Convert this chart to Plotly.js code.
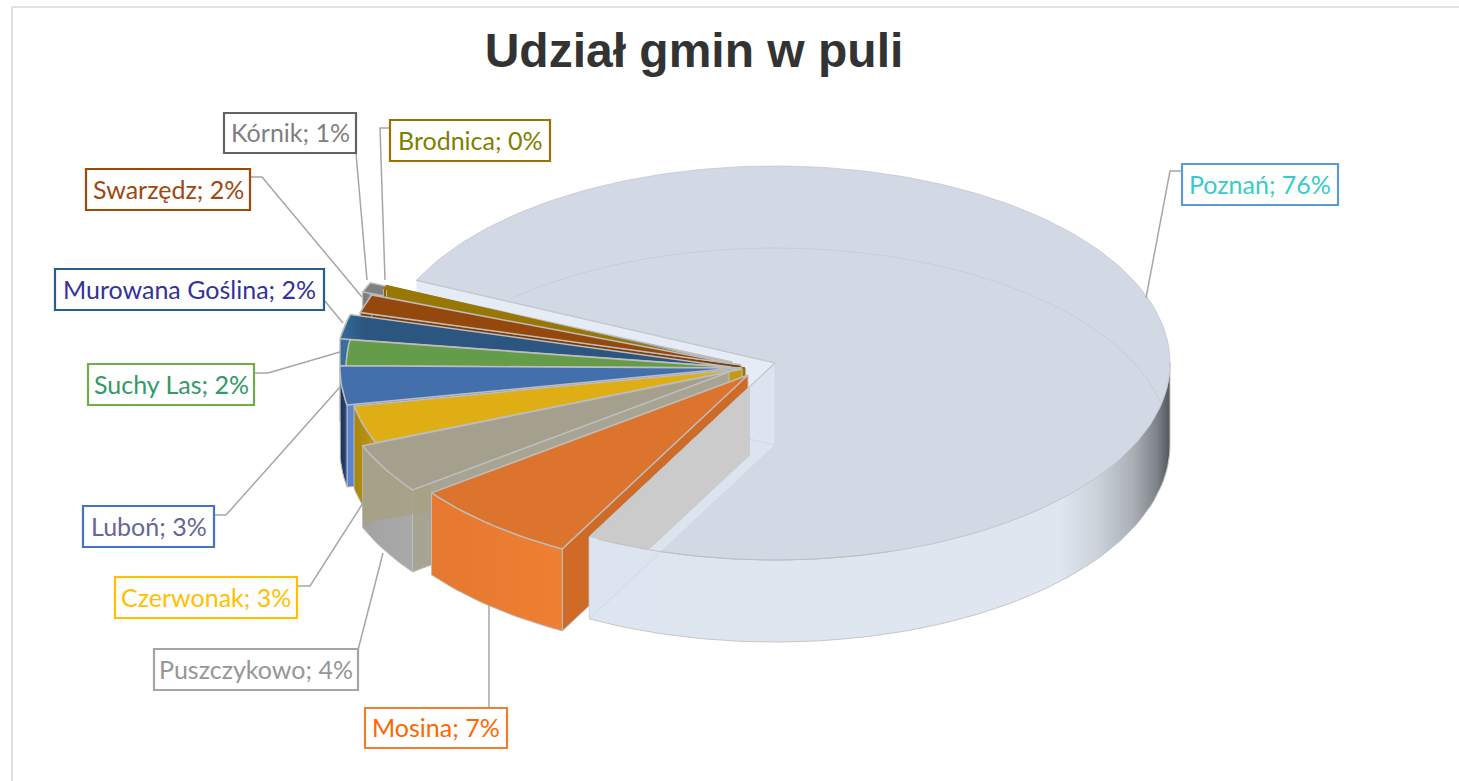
<!DOCTYPE html>
<html><head><meta charset="utf-8">
<script src="https://cdn.plot.ly/plotly-3.0.1.min.js"></script>
<style>html,body{margin:0;padding:0;background:#fff}#c{width:1459px;height:781px}</style>
</head><body><div id="c"></div>
<script>
// ---- data (shares, clockwise from the rotation start)
const names  = ['Poznań','Mosina','Puszczykowo','Czerwonak','Luboń','Suchy Las','Murowana Goślina','Swarzędz','Kórnik','Brodnica'];
const values = [75.9, 7.0, 4.1, 3.1, 3.2, 2.1, 2.0, 1.5, 0.8, 0.3];
const title  = 'Udział gmin w puli';

// ---- styling
const textColors = ['#38cbc8','#ff6600','#969696','#ffc000','#666699','#339966','#333399','#9e480e','#7f7f7f','#7f7f00'];
const boxColors  = ['#5b9bd5','#ed7d31','#a5a5a5','#ffc000','#4472c4','#70ad47','#255e91','#9e480e','#636363','#997300'];
const boxes = [[1182,164,1338,205],[365,708,507,748],[154,649,358,690],[115,577,297,618],[83,506,214,547],
               [88,364,254,405],[55,269,324,310],[86,169,250,210],[224,113,356,153],[390,120,550,161]];
const leaders = [
 [[1182,171],[1170,171],[1146,298]],[[489,708],[489,605]],[[358,650],[383,553]],[[297,586],[310,586],[363,503]],
 [[214,515],[226,515],[340,387]],[[254,373],[268,373],[340,352]],[[324,300],[343,323]],[[250,177],[262,177],[362,297]],
 [[356,153],[367,280]],[[390,128],[380,128],[385,280]]];
const centers = [[775,363],[748,375],[729,372],[742,369],[735,368],[741,368],[731,367],[741,365],[732,362],[745,368]];
const topFill = ['#d2d8e4','#dd742e','#a5a08d','#dfae14','#4370ad','#649c4a','#2c5580','#95480c','#808080','#997705'];
const sideFill= ['#dce4f0','#cf6b26','#a7a493','#c49a10','#5b84cf','#4f7f3b','#3a6f9c','#7c3c0a','#6f6f6f','#997705'];
const wallStops = [
 [[0,'#dde6f0'],[0.81,'#dfe6ef'],[0.874,'#cbd2da'],[0.936,'#aab0b6'],[0.978,'#7c8288'],[1,'#50565c']],
 [[0,'#e6782f'],[1,'#ee8033']],
 [[0,'#a3a3a3'],[1,'#a9a9a9']],
 [[0,'#a88410'],[1,'#c49a10']],
 [[0,'#1c2f4f'],[0.6,'#22406c'],[1,'#3b5f9c']],
 [[0,'#4f7f3b'],[1,'#4f7f3b']],
 [[0,'#3a6f9c'],[1,'#3a6f9c']],
 [[0,'#7c3c0a'],[1,'#7c3c0a']],
 [[0,'#767676'],[1,'#8a8a8a']],
 [[0,'#806404'],[1,'#806404']]];
const drawOrder = [8,9,7,6,5,4,3,2,1];
const RX = 395, RY = 197, DEPTH = 82, ROTATION = 294.8;
const EDGE = '#bdbdbd';

// ---- projection of the shares onto the tilted disc
const total = values.reduce((a,b)=>a+b,0);
const bearings = []; let run = ROTATION;
values.forEach((v,i)=>{ const sweep=v/total*360; bearings.push(i?[run-360,run+sweep-360]:[run,run+sweep]); run+=sweep; });
const rim = (c,deg,dz=0)=>{const r=deg*Math.PI/180;return [c[0]+RX*Math.sin(r),c[1]-RY*Math.cos(r)+dz];};
const arc = (c,a,b,dz=0)=>{const n=Math.max(2,Math.ceil(Math.abs(b-a)/1.5)),o=[];
  for(let i=0;i<=n;i++)o.push(rim(c,a+(b-a)*i/n,dz));return o;};
const shift=(p,dx,dy)=>[p[0]+dx,p[1]+dy];
const yOn=(p,q,x)=>p[1]+(q[1]-p[1])*(x-p[0])/(q[0]-p[0]);

const traces=[];
function poly(pts,fill,opt={}){
  const xs=pts.map(p=>p[0]),ys=pts.map(p=>p[1]);
  const closed=opt.open?{}:{fill:'toself'};
  const t=Object.assign({type:'scatter',mode:'lines',x:opt.open?xs:xs.concat(xs[0]),y:opt.open?ys:ys.concat(ys[0]),
    hoverinfo:'skip',showlegend:false,line:{color:opt.line||'rgba(0,0,0,0)',width:opt.width===undefined?1:opt.width}},closed);
  if(!opt.open){
    if(Array.isArray(fill)){t.fillgradient={type:'horizontal',colorscale:fill,start:opt.start!==undefined?opt.start:Math.min(...xs),stop:opt.stop!==undefined?opt.stop:Math.max(...xs)};}
    else t.fillcolor=fill;
  }
  traces.push(t);
}

// Poznań: rear cut face (pale band seen above the small slices)
const pz=centers[0], pzA=bearings[0][0], pzB=bearings[0][1]-360;
const pzRear=rim(pz,pzA), pzFront=rim(pz,pzB);
poly([pzRear,pz,shift(pz,0,DEPTH),shift(pzRear,0,DEPTH)],'#e6ecf5');

// small slices
drawOrder.forEach(i=>{
  const c=centers[i],[a,b]=bearings[i];
  const pa=rim(c,a),pb=rim(c,b);
  poly([pa,c,shift(c,0,DEPTH),shift(pa,0,DEPTH)],sideFill[i],{line:i===9?sideFill[i]:EDGE});
  poly(arc(c,a,b).concat(arc(c,b,a,DEPTH)),wallStops[i],{line:EDGE});
  if(i===2){ // translucent grey over the gold slice behind it
    const top=arc(c,a,b).reverse();
    poly(top.concat([shift(pa,18,-7),shift(pa,18,22),shift(pb,12,75),shift(pb,0,81)]),'rgba(168,160,130,0.8)');
  }
  const topPts=[c].concat(arc(c,a,b));
  if(i===6) poly(topPts,[[0,'#356d9e'],[0.06,'#2c5580'],[1,'#2c5580']],{line:EDGE,width:1.5});
  else if(i===9) poly(topPts,topFill[i],{line:topFill[i],width:1});
  else poly(topPts,topFill[i],{line:EDGE,width:1.5});
});

// Poznań: outer wall and top
poly(arc(pz,90,pzB).concat(arc(pz,pzB,90,DEPTH)),wallStops[0],{line:'#c6c6c6',start:pzFront[0],stop:rim(pz,90)[0]});
poly([pz].concat(arc(pz,pzA,bearings[0][1])),topFill[0],{line:'rgba(190,195,205,0.7)'});
// things seen through the translucent top: far rim, front cut face, and the grey part of it
poly(arc(shift(pz,0,DEPTH),-42,78),null,{open:true,line:'#c8ced9'});
poly([pzFront,pz,shift(pz,0,DEPTH),shift(pzFront,0,DEPTH)],sideFill[0],{line:'#d0d8e4'});
const m=centers[1], mFront=rim(m,bearings[1][0]);
const gx=m[0]+2, mBotA=shift(m,0,DEPTH), mBotB=shift(mFront,0,DEPTH);
const lower=[];
for(let x=gx;x>=pzFront[0];x-=4){
  const ya=pz[1]+RY*Math.sqrt(1-Math.pow((x-pz[0])/RX,2));
  lower.push([x,Math.min(ya,yOn(mBotA,mBotB,x))]);
}
lower.push(pzFront);
poly([pzFront,[gx,yOn(pzFront,pz,gx)]].concat(lower),'#cbcbcb');
poly(arc(pz,pzA,bearings[0][1]).filter(p=>p[0]>pzFront[0]&&p[1]>pz[1]&&p[0]<pz[0]+120),null,{open:true,line:'rgba(190,190,190,0.9)'});
poly([pzRear,pz,pzFront],null,{open:true,line:'#c4c8cc',width:1.2});
poly([shift(pz,0,DEPTH),[gx,yOn(shift(pz,0,DEPTH),shift(pzRear,0,DEPTH),gx)]],null,{open:true,line:'#cfd6e0'});

const shapes=[{type:'rect',xref:'x',yref:'y',x0:12,y0:7,x1:1480,y1:800,line:{color:'#d9d9d9',width:1.5},fillcolor:'rgba(0,0,0,0)',layer:'below'}];
const annotations=[];
names.forEach((n,i)=>{
  const L=leaders[i];
  shapes.push({type:'path',xref:'x',yref:'y',path:'M'+L.map(p=>p.join(',')).join('L'),line:{color:'#a6a6a6',width:1.5}});
  const B=boxes[i];
  shapes.push({type:'rect',xref:'x',yref:'y',x0:B[0],y0:B[1],x1:B[2],y1:B[3],fillcolor:'#fff',line:{color:boxColors[i],width:2.2}});
  annotations.push({xref:'x',yref:'y',x:(B[0]+B[2])/2,y:(B[1]+B[3])/2-1,xanchor:'center',yanchor:'middle',showarrow:false,
    text:n+'; '+Math.round(values[i])+'%',font:{family:'Lato, Carlito, sans-serif',size:25,color:textColors[i]}});
});

Plotly.newPlot('c',traces,{
  width:1459,height:781,margin:{l:0,r:0,t:0,b:0},paper_bgcolor:'#fff',plot_bgcolor:'#fff',showlegend:false,
  title:{text:'<b>'+title+'</b>',x:694/1459,xanchor:'center',y:1-50/781,yanchor:'middle',font:{family:'Liberation Sans, Arial, sans-serif',size:48,color:'#333333'}},
  xaxis:{range:[0,1459],visible:false,fixedrange:true},
  yaxis:{range:[781,0],visible:false,fixedrange:true},
  shapes,annotations
},{staticPlot:true,displayModeBar:false});
</script></body></html>
